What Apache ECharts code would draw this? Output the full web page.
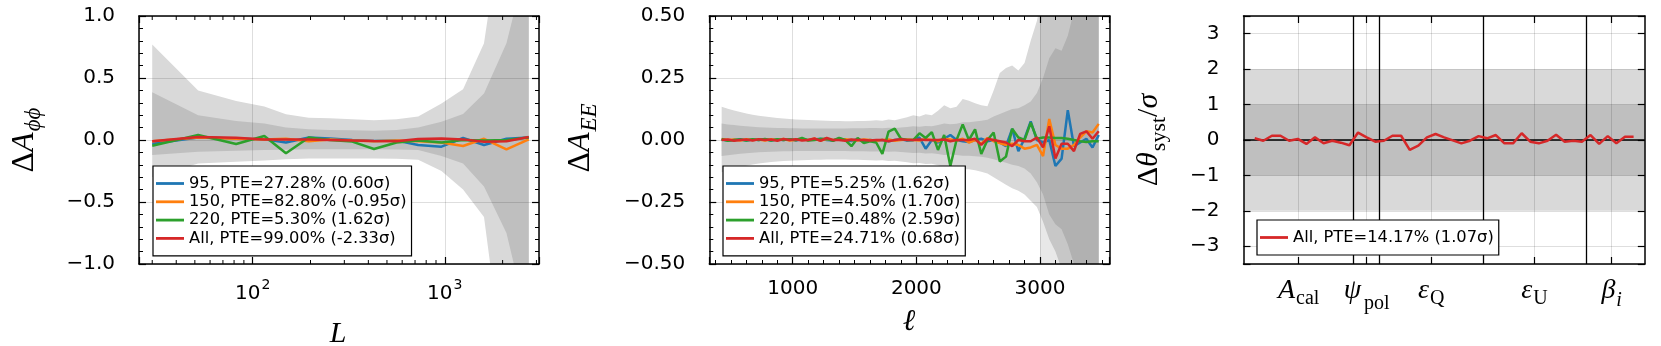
<!DOCTYPE html>
<html><head><meta charset="utf-8">
<script src="https://cdn.jsdelivr.net/npm/echarts@6/dist/echarts.min.js"></script>
<style>html,body{margin:0;padding:0;background:#fff}#c{width:1661px;height:346px}</style>
</head><body><div id="c"></div>
<script>
// ---------- Panel 1: Delta A_phiphi vs L ----------
const phiL = [30, 52, 82, 115, 149, 196, 252, 330, 428, 561, 727, 961, 1245, 1600, 2094, 2735];
const phiHi2 = [0.77, 0.40, 0.315, 0.27, 0.207, 0.18, 0.175, 0.167, 0.16, 0.167, 0.19, 0.295, 0.41, 0.78, 2.0, 4.0];
const phiHi1 = [0.385, 0.20, 0.153, 0.134, 0.10, 0.086, 0.08, 0.078, 0.075, 0.08, 0.10, 0.148, 0.21, 0.376, 0.78, 1.5];
const phiLo1 = [-0.12, -0.094, -0.086, -0.08, -0.078, -0.075, -0.075, -0.075, -0.075, -0.076, -0.08, -0.13, -0.19, -0.376, -0.75, -1.5];
const phiLo2 = [-0.30, -0.19, -0.175, -0.165, -0.155, -0.15, -0.15, -0.15, -0.15, -0.152, -0.16, -0.25, -0.40, -0.62, -2.0, -4.0];
const phi95  = [-0.03, 0.02, 0.012, 0.005, -0.02, 0.02, 0.013, 0.0, -0.008, -0.005, -0.04, -0.054, 0.016, -0.04, 0.01, 0.02];
const phi150 = [-0.01, 0.02, 0.01, 0.005, 0.01, -0.01, 0.005, -0.005, -0.01, -0.005, -0.01, -0.02, -0.048, 0.01, -0.075, 0.005];
const phi220 = [-0.046, 0.04, -0.032, 0.032, -0.107, 0.02, 0.0, -0.013, -0.073, -0.02, -0.005, -0.02, 0.0, -0.005, 0.0, 0.02];
const phiAll = [-0.01, 0.025, 0.018, 0.005, 0.005, 0.005, 0.0, -0.005, -0.008, -0.01, 0.008, 0.012, 0.005, -0.015, -0.01, 0.025];
const phiNames = ['95, PTE=27.28% (0.60σ)', '150, PTE=82.80% (-0.95σ)', '220, PTE=5.30% (1.62σ)', 'All, PTE=99.00% (-2.33σ)'];
const phiMinorTicks = [30, 40, 50, 60, 70, 80, 90, 200, 300, 400, 500, 600, 700, 800, 900, 2000, 3000];
const phiXRange = [25.6, 3093];
const phiYRange = [-1, 1];

// ---------- Panel 2: Delta A_EE vs ell ----------
const eeL = [425,475,525,575,625,675,725,775,825,875,
  925,975,1025,1075,1125,1175,1225,1275,1325,1375,
  1425,1475,1525,1575,1625,1675,1725,1775,1825,1875,
  1925,1975,2025,2075,2125,2175,2225,2275,2325,2375,
  2425,2475,2525,2575,2625,2675,2725,2775,2825,2875,
  2925,2975,3025,3075,3125,3175,3225,3275,3325,3375,
  3425,3475];
const eeHi2 = [0.134,0.126,0.119,0.113,0.107,0.102,0.098,0.095,0.092,0.089,
  0.087,0.085,0.083,0.082,0.081,0.080,0.079,0.078,0.077,0.077,
  0.076,0.076,0.077,0.077,0.078,0.080,0.078,0.083,0.080,0.086,
  0.092,0.100,0.095,0.104,0.100,0.118,0.140,0.128,0.134,0.165,
  0.158,0.148,0.140,0.136,0.200,0.270,0.290,0.300,0.280,0.310,
  0.400,0.480,0.600,0.750,0.850,1.000,1.200,1.400,1.600,1.800,
  2.000,2.200];
const eeHi1 = [0.067,0.063,0.060,0.057,0.055,0.053,0.051,0.050,0.049,0.048,
  0.048,0.047,0.047,0.046,0.046,0.046,0.046,0.046,0.046,0.046,
  0.046,0.047,0.047,0.047,0.048,0.048,0.047,0.049,0.048,0.050,
  0.052,0.055,0.053,0.056,0.055,0.060,0.067,0.064,0.066,0.072,
  0.072,0.075,0.078,0.082,0.095,0.105,0.115,0.125,0.128,0.140,
  0.155,0.190,0.250,0.330,0.370,0.360,0.420,0.520,0.700,0.850,
  1.000,1.100];
const eeLo1 = [-0.065,-0.061,-0.058,-0.055,-0.053,-0.051,-0.049,-0.048,-0.047,-0.046,
  -0.045,-0.045,-0.044,-0.044,-0.044,-0.044,-0.044,-0.044,-0.044,-0.044,
  -0.044,-0.045,-0.045,-0.045,-0.046,-0.046,-0.045,-0.047,-0.046,-0.048,
  -0.050,-0.052,-0.051,-0.054,-0.053,-0.056,-0.060,-0.058,-0.060,-0.064,
  -0.064,-0.066,-0.068,-0.072,-0.078,-0.085,-0.092,-0.100,-0.105,-0.115,
  -0.135,-0.170,-0.220,-0.300,-0.340,-0.360,-0.420,-0.500,-0.620,-0.750,
  -0.900,-1.000];
const eeLo2 = [-0.130,-0.122,-0.115,-0.109,-0.104,-0.099,-0.095,-0.092,-0.089,-0.087,
  -0.085,-0.084,-0.083,-0.082,-0.081,-0.080,-0.080,-0.079,-0.079,-0.079,
  -0.079,-0.080,-0.080,-0.081,-0.082,-0.083,-0.082,-0.085,-0.084,-0.087,
  -0.090,-0.094,-0.093,-0.097,-0.096,-0.102,-0.110,-0.107,-0.110,-0.118,
  -0.118,-0.122,-0.128,-0.135,-0.150,-0.165,-0.180,-0.195,-0.205,-0.220,
  -0.245,-0.270,-0.330,-0.400,-0.450,-0.520,-0.620,-0.750,-0.950,-1.200,
  -1.500,-1.700];
const ee95 = [0.002,-0.002,0.000,0.003,-0.002,0.002,0.000,0.003,-0.002,0.002,
  0.000,0.003,-0.002,0.004,0.000,0.002,0.005,0.000,-0.002,0.006,
  0.000,-0.004,0.003,-0.005,0.000,-0.003,0.000,-0.005,0.000,0.003,
  -0.002,0.000,0.010,-0.035,0.000,-0.010,0.005,0.020,0.000,-0.005,
  -0.008,0.000,0.005,-0.005,0.000,-0.010,-0.025,0.045,-0.045,0.005,
  0.075,0.000,-0.010,0.000,-0.105,-0.075,0.120,-0.025,-0.010,0.005,
  -0.030,0.020];
const ee150 = [0.004,0.000,0.002,-0.002,0.003,0.000,0.002,-0.002,0.003,0.000,
  0.004,-0.002,0.000,0.003,0.000,0.005,-0.002,0.004,0.000,0.002,
  0.003,0.000,-0.002,0.002,0.000,-0.003,0.000,0.002,-0.003,0.000,
  0.002,0.000,-0.002,0.003,0.000,-0.005,0.005,0.002,-0.003,0.005,
  -0.010,0.000,-0.015,0.008,-0.005,-0.012,-0.020,-0.015,-0.020,-0.035,
  -0.030,-0.020,-0.065,0.085,-0.020,-0.035,-0.035,-0.020,0.010,0.035,
  0.030,0.065];
const ee220 = [0.003,-0.003,0.000,0.002,-0.002,0.003,0.000,0.004,-0.002,0.003,
  0.000,0.003,0.000,0.008,-0.002,0.000,0.004,0.005,-0.003,0.008,
  0.000,-0.025,0.008,-0.012,-0.005,-0.010,-0.056,0.034,0.046,0.005,
  0.000,0.000,0.027,0.008,0.032,-0.040,0.020,-0.105,0.000,0.063,
  0.000,0.043,-0.056,0.000,0.030,-0.087,-0.067,0.045,0.010,0.000,
  0.070,0.005,0.010,0.010,0.008,0.008,0.005,0.000,-0.005,-0.008,
  -0.005,-0.005];
const eeAll = [0.000,0.002,-0.003,0.000,0.002,-0.002,0.003,0.000,0.002,-0.003,
  0.004,0.000,0.003,-0.002,0.000,0.006,-0.003,0.008,0.000,0.000,
  -0.003,0.002,0.000,0.000,-0.002,0.000,0.000,-0.005,0.000,0.003,
  0.000,0.000,0.002,0.000,0.000,0.000,0.002,-0.005,0.000,0.000,
  0.000,0.005,-0.020,0.005,0.000,-0.005,-0.010,-0.025,0.000,-0.005,
  -0.005,0.010,-0.030,0.055,-0.075,-0.015,-0.015,-0.045,0.025,0.035,
  0.005,0.035];
const eeNames = ['95, PTE=5.25% (1.62σ)', '150, PTE=4.50% (1.70σ)', '220, PTE=0.48% (2.59σ)', 'All, PTE=24.71% (0.68σ)'];
const eeSpan = [3000, 3475];
const eeXRange = [325, 3564];
const eeYRange = [-0.5, 0.5];

// ---------- Panel 3: Delta theta_syst / sigma ----------
const thetaIdx = [0,1,2,3,4,5,6,7,8,9,10,11,12,13,14,15,16,17,18,19,20,21,22,23,24,25,26,27,28,29,30,31,32,33,34,35,36,37,38,39,40,41,42,43,44];
const thetaAll = [0.05,-0.02,0.12,0.12,-0.02,0.03,-0.11,0.075,-0.09,-0.02,
  -0.075,-0.15,0.21,0.075,-0.047,-0.02,0.12,0.12,-0.28,-0.16,
  0.075,0.17,0.075,-0.01,-0.094,-0.02,0.11,0.047,0.14,-0.094,
  -0.094,0.19,-0.047,-0.094,-0.02,0.15,-0.047,-0.02,-0.047,0.14,
  -0.11,0.11,-0.094,0.094,0.094];
const thetaName = 'All, PTE=14.17% (1.07σ)';
const thetaTickPos = [5.1, 13.0, 20.5, 32.5, 41.45];
const thetaTickLabels = ['{m|A}{s|cal}', '{m|ψ}{sp|pol}', '{m|ε}{s|Q}', '{m|ε}{s|U}', '{m|β}{si|i}'];
const thetaSeparators = [11.5, 14.5, 26.5, 38.5];
const thetaXRange = [-1.3, 45.3];
const thetaBandX = [-1.3, 45.3];
const thetaLo2 = [-2, -2], thetaHi2 = [2, 2], thetaLo1 = [-1, -1], thetaHi1 = [1, 1], thetaZero = [0, 0];
const thetaYRange = [-3.5, 3.5];

const C = {blue:'#1f77b4', orange:'#ff7f0e', green:'#2ca02c', red:'#d62728'};
const zip = (xs, ys) => xs.map((x, i) => [x, ys[i]]);
const minus = s => s.replace('-', '\u2212');

const tickFont = {color:'#000', fontFamily:'DejaVu Sans', fontSize:20};
const axLine = {show:true, onZero:false, lineStyle:{color:'#000', width:1.5}};
const axTick = {show:true, inside:true, length:7, lineStyle:{color:'#000', width:1.2}};
const minor = n => ({show:true, splitNumber:n, length:4, lineStyle:{color:'#000', width:1}});
const gridLine = {show:true, lineStyle:{color:'rgba(0,0,0,0.13)', width:1}};
const noLabel = {show:false};
const noSplit = {show:false};

// filled band between lo and hi, drawn as one polygon through the axes' scales
function band(xi, yi, xs, lo, hi, color) {
  return {type:'custom', xAxisIndex:xi, yAxisIndex:yi, data:[[xs[0], lo[0]]], silent:true, z:1, clip:true,
    renderItem:(params, api) => {
      const top = xs.map((x, i) => api.coord([x, hi[i]]));
      const bot = xs.map((x, i) => api.coord([x, lo[i]])).reverse();
      const cs = params.coordSys;
      return {type:'polygon', shape:{points:top.concat(bot)}, style:{fill:color},
        clipPath:{type:'rect', shape:{x:cs.x, y:cs.y, width:cs.width, height:cs.height}}};
    }};
}
function line(xi, yi, name, xs, ys, color) {
  return {type:'line', name:name, xAxisIndex:xi, yAxisIndex:yi, data:zip(xs, ys), symbol:'none',
    lineStyle:{color:color, width:2.5}, itemStyle:{color:color}, silent:true, z:4};
}

const LIGHT = '#d9d9d9', DARK = '#bfbfbf';

const series = [
  band(0, 0, phiL, phiLo2, phiHi2, LIGHT),
  band(0, 0, phiL, phiLo1, phiHi1, DARK),
  {type:'custom', xAxisIndex:0, yAxisIndex:0, data:phiMinorTicks.map(v => [v, 0]), silent:true, z:5,
   renderItem:(params, api) => {
     const v = api.value(0);
     const b = api.coord([v, phiYRange[0]]), t = api.coord([v, phiYRange[1]]);
     return {type:'group', children:[
       {type:'line', shape:{x1:b[0], y1:b[1], x2:b[0], y2:b[1]-4}, style:{stroke:'#000', lineWidth:1}},
       {type:'line', shape:{x1:t[0], y1:t[1], x2:t[0], y2:t[1]+4}, style:{stroke:'#000', lineWidth:1}}
     ]};
   }},
  line(0, 0, phiNames[0], phiL, phi95, C.blue),
  line(0, 0, phiNames[1], phiL, phi150, C.orange),
  line(0, 0, phiNames[2], phiL, phi220, C.green),
  line(0, 0, phiNames[3], phiL, phiAll, C.red),

  band(2, 2, eeL, eeLo2, eeHi2, LIGHT),
  band(2, 2, eeL, eeLo1, eeHi1, DARK),
  {type:'line', xAxisIndex:2, yAxisIndex:2, data:zip(eeSpan, [0, 0]), symbol:'none', lineStyle:{opacity:0}, silent:true, z:1,
   markArea:{z:1.8, silent:true, itemStyle:{color:'rgba(90,90,90,0.14)'}, data:[[{xAxis:eeSpan[0]}, {xAxis:eeSpan[1]}]]}},
  line(2, 2, eeNames[0], eeL, ee95, C.blue),
  line(2, 2, eeNames[1], eeL, ee150, C.orange),
  line(2, 2, eeNames[2], eeL, ee220, C.green),
  line(2, 2, eeNames[3], eeL, eeAll, C.red),

  band(4, 4, thetaBandX, thetaLo2, thetaHi2, LIGHT),
  band(4, 4, thetaBandX, thetaLo1, thetaHi1, DARK),
  {type:'line', xAxisIndex:4, yAxisIndex:4, data:zip(thetaBandX, thetaZero), symbol:'none',
   lineStyle:{color:'#000', width:1.3}, silent:true, z:3,
   markLine:{z:3, silent:true, symbol:['none','none'], label:{show:false}, animation:false,
     data:[
       ...thetaTickPos.map(v => ({xAxis:v, lineStyle:{color:'rgba(0,0,0,0.13)', width:1, type:'solid'}})),
       ...thetaSeparators.map(v => ({xAxis:v, lineStyle:{color:'#000', width:1.3, type:'solid'}}))
     ]}},
  line(4, 4, thetaName, thetaIdx, thetaAll, C.red)
];

const xAxis = [
  {gridIndex:0, type:'log', logBase:10, min:phiXRange[0], max:phiXRange[1], position:'bottom', z:2,
   axisLine:axLine, axisTick:axTick, splitLine:gridLine,
   axisLabel:{...tickFont, margin:14,
     formatter: v => { const e = Math.log10(v); return Math.abs(e - Math.round(e)) < 1e-6 ? '{b|10}{p|' + Math.round(e) + '}' : ''; },
     rich:{b:{fontFamily:'DejaVu Sans', fontSize:20, color:'#000', verticalAlign:'top', padding:[6,0,0,0]},
           p:{fontFamily:'DejaVu Sans', fontSize:14, color:'#000', verticalAlign:'top', padding:[0,0,0,1]}}}},
  {gridIndex:0, type:'log', logBase:10, min:phiXRange[0], max:phiXRange[1], position:'top', z:2,
   axisLine:axLine, axisTick:axTick, axisLabel:noLabel, splitLine:noSplit},
  {gridIndex:1, type:'value', min:eeXRange[0], max:eeXRange[1], splitNumber:3, minInterval:1000, maxInterval:1000, position:'bottom', z:2,
   axisLine:axLine, axisTick:axTick, minorTick:minor(8), splitLine:gridLine,
   axisLabel:{...tickFont, margin:15, formatter: v => (v % 1000 === 0 ? String(v) : '')}},
  {gridIndex:1, type:'value', min:eeXRange[0], max:eeXRange[1], splitNumber:3, minInterval:1000, maxInterval:1000, position:'top', z:2,
   axisLine:axLine, axisTick:axTick, minorTick:minor(8), axisLabel:noLabel, splitLine:noSplit},
  {gridIndex:2, type:'value', min:thetaXRange[0], max:thetaXRange[1], position:'bottom', z:2,
   axisLine:axLine, axisTick:{...axTick, customValues:thetaTickPos}, splitLine:noSplit,
   axisLabel:{show:true, color:'#000', margin:13, customValues:thetaTickPos,
     formatter: v => { let k = 0; thetaTickPos.forEach((p, i) => { if (Math.abs(p - v) < Math.abs(thetaTickPos[k] - v)) k = i; }); return thetaTickLabels[k]; },
     rich:{
       m:{fontFamily:'Liberation Serif', fontStyle:'italic', fontSize:28, color:'#000', verticalAlign:'top', padding:[0,0,0,0]},
       s:{fontFamily:'Liberation Serif', fontSize:20, color:'#000', verticalAlign:'top', padding:[12,0,0,1]},
       sp:{fontFamily:'Liberation Serif', fontSize:20, color:'#000', verticalAlign:'top', padding:[17,0,0,3]},
       si:{fontFamily:'Liberation Serif', fontStyle:'italic', fontSize:20, color:'#000', verticalAlign:'top', padding:[14,0,0,1]}
     }}},
  {gridIndex:2, type:'value', min:thetaXRange[0], max:thetaXRange[1], position:'top', z:2,
   axisLine:axLine, axisTick:{...axTick, customValues:thetaTickPos}, axisLabel:noLabel, splitLine:noSplit}
];

const yAxis = [
  {gridIndex:0, type:'value', min:phiYRange[0], max:phiYRange[1], interval:0.5, position:'left', z:2,
   axisLine:axLine, axisTick:axTick, minorTick:minor(5), splitLine:gridLine,
   axisLabel:{...tickFont, margin:24, formatter: v => minus(v.toFixed(1))}},
  {gridIndex:0, type:'value', min:phiYRange[0], max:phiYRange[1], interval:0.5, position:'right', z:2,
   axisLine:axLine, axisTick:axTick, minorTick:minor(5), axisLabel:noLabel, splitLine:noSplit},
  {gridIndex:1, type:'value', min:eeYRange[0], max:eeYRange[1], interval:0.25, position:'left', z:2,
   axisLine:axLine, axisTick:axTick, minorTick:minor(5), splitLine:gridLine,
   axisLabel:{...tickFont, margin:24, formatter: v => minus(v.toFixed(2))}},
  {gridIndex:1, type:'value', min:eeYRange[0], max:eeYRange[1], interval:0.25, position:'right', z:2,
   axisLine:axLine, axisTick:axTick, minorTick:minor(5), axisLabel:noLabel, splitLine:noSplit},
  {gridIndex:2, type:'value', min:thetaYRange[0], max:thetaYRange[1], splitNumber:7, minInterval:1, maxInterval:1, position:'left', z:2,
   axisLine:axLine, axisTick:axTick, splitLine:gridLine,
   axisLabel:{...tickFont, margin:24, formatter: v => (Number.isInteger(v) ? minus(String(v)) : '')}},
  {gridIndex:2, type:'value', min:thetaYRange[0], max:thetaYRange[1], splitNumber:7, minInterval:1, maxInterval:1, position:'right', z:2,
   axisLine:axLine, axisTick:axTick, axisLabel:noLabel, splitLine:noSplit}
];

const legendCommon = {orient:'vertical', icon:'rect', itemWidth:28, itemHeight:2.8, itemGap:2.3,
  padding:[9.5, 5, 9.5, 3], borderColor:'#000', borderWidth:1.2, borderRadius:0, backgroundColor:'#fff',
  textStyle:{fontFamily:'DejaVu Sans', fontSize:16.3, color:'#000', lineHeight:16}, selectedMode:false, z:10};

const serif = 'Liberation Serif';
const titleRich = {
  d:{fontFamily:serif, fontSize:32, verticalAlign:'top', fill:'#000'},
  i:{fontFamily:serif, fontStyle:'italic', fontSize:32, verticalAlign:'top', fill:'#000'},
  s:{fontFamily:serif, fontStyle:'italic', fontSize:23, verticalAlign:'top', padding:[14,0,0,1], fill:'#000'},
  u:{fontFamily:serif, fontSize:22, verticalAlign:'top', padding:[14,0,0,1], fill:'#000'},
  d2:{fontFamily:serif, fontSize:30, verticalAlign:'top', fill:'#000'},
  i2:{fontFamily:serif, fontStyle:'italic', fontSize:30, verticalAlign:'top', fill:'#000'}
};
function title(x, y, text, rot) {
  return {type:'text', x:x, y:y, rotation:rot || 0, silent:true, z:10,
    style:{text:text, rich:titleRich, align:'center', verticalAlign:'middle', fill:'#000',
      fontFamily:serif, fontSize:30}};
}

const option = {
  animation:false,
  backgroundColor:'#fff',
  grid:[
    {left:139, top:16, width:400, height:248, outerBoundsMode:'none'},
    {left:709.3, top:16, width:400.4, height:248, outerBoundsMode:'none'},
    {left:1243.5, top:16, width:401.3, height:248, outerBoundsMode:'none'}
  ],
  xAxis, yAxis, series,
  legend:[
    {...legendCommon, data:phiNames, left:153, top:166},
    {...legendCommon, data:eeNames, left:723, top:166},
    {...legendCommon, data:[thetaName], left:1257, top:220}
  ],
  graphic:[
    title(27, 140, '{d|Δ}{i|A}{s|ϕϕ}', Math.PI / 2),
    title(583, 138, '{d|Δ}{i|A}{s|EE}', Math.PI / 2),
    title(1152, 140, '{d2|Δ}{i2|θ}{u|syst}{d2|/}{i2|σ}', Math.PI / 2),
    title(338, 334, '{i2|L}'),
    title(909, 322, '{i2|ℓ}')
  ]
};

const chart = echarts.init(document.getElementById('c'), null, {renderer:'canvas'});
chart.setOption(option);
</script></body></html>
